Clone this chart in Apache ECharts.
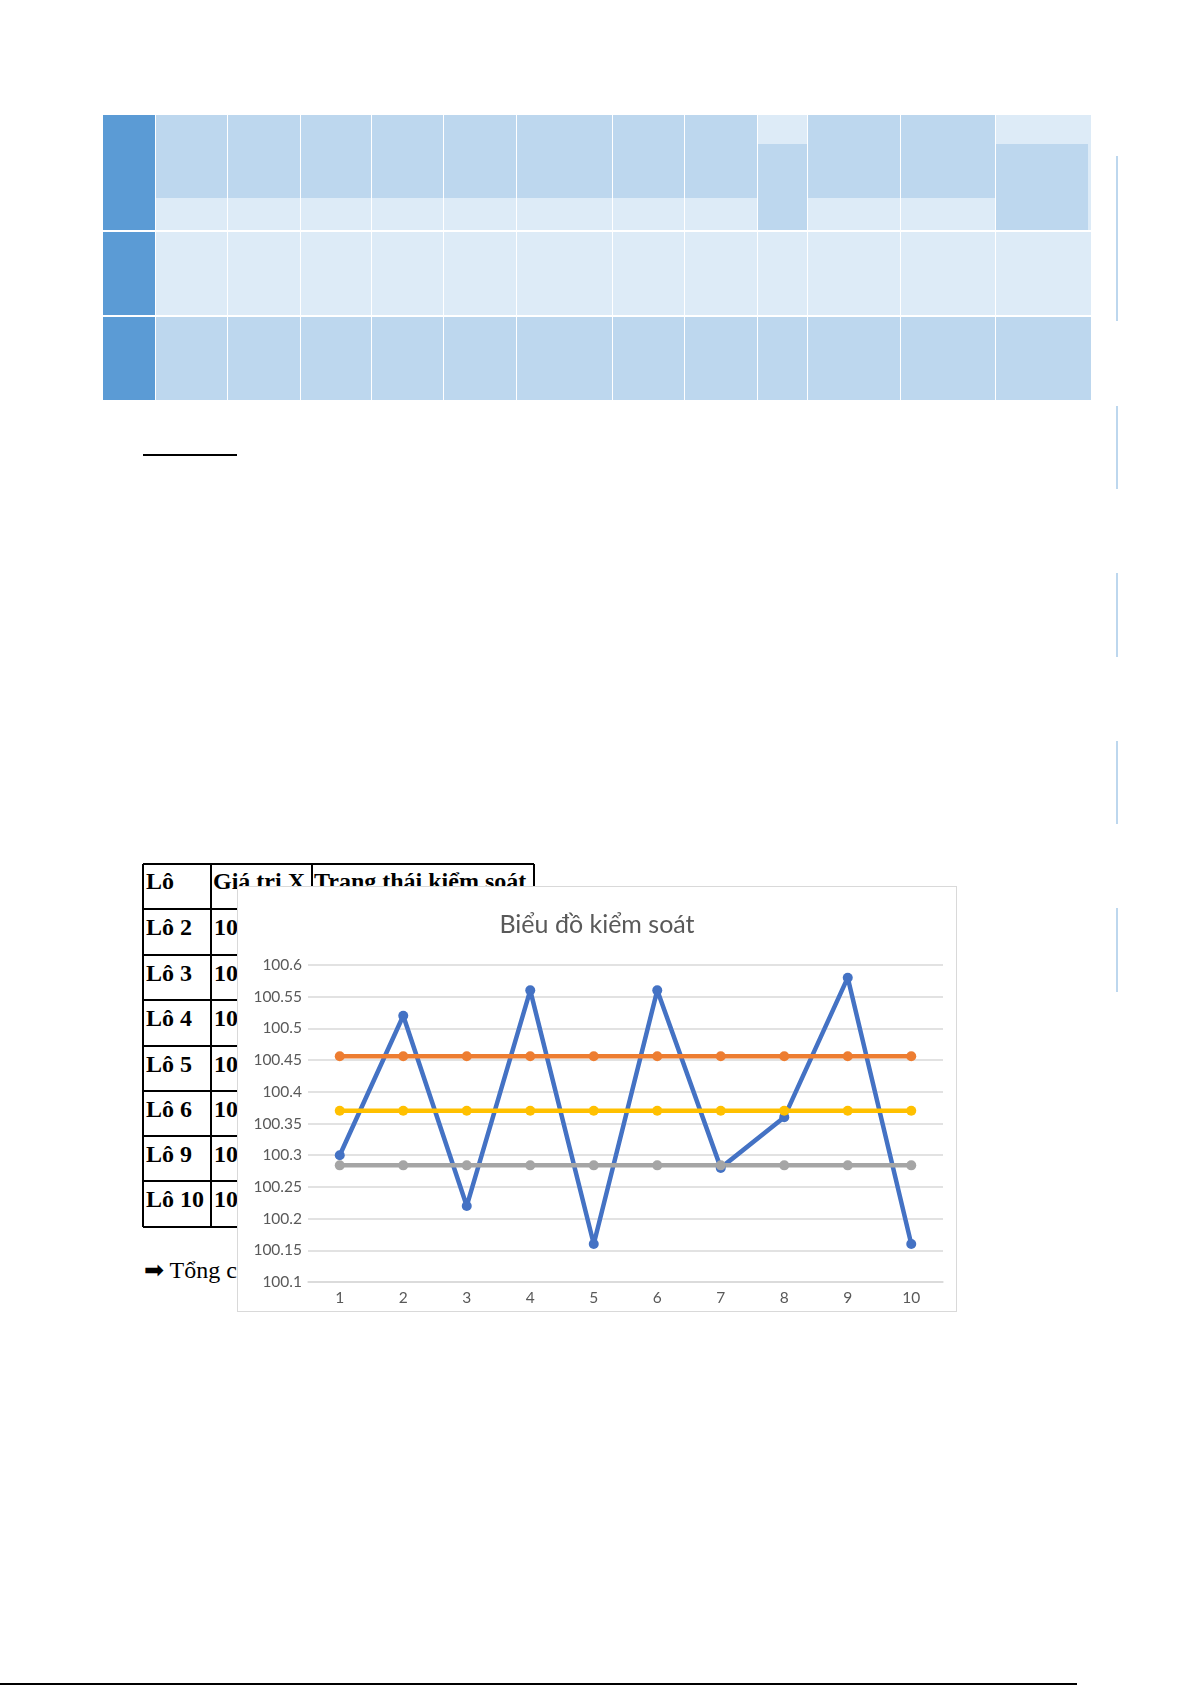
<!DOCTYPE html>
<html>
<head>
<meta charset="utf-8">
<script src="https://cdn.jsdelivr.net/npm/echarts@6/dist/echarts.min.js"></script>
<style>
  html, body { margin: 0; padding: 0; background: #ffffff; }
  body { position: relative; width: 1192px; height: 1685px; overflow: hidden; }
  .cell { position: absolute; box-sizing: border-box; }
  .lt { position: absolute; font-family: "Liberation Serif", "Times New Roman", serif; font-weight: bold; font-size: 24px; color: #000; white-space: nowrap; line-height: 1; }
  #chart { position: absolute; left: 237px; top: 886px; width: 718px; height: 424px; border: 1px solid #D9D9D9; background: #ffffff; }
</style>
</head>
<body>
<div id="page"></div>
<div id="chart"></div>
<script>
// ---- chart data ----
const lots = ['1', '2', '3', '4', '5', '6', '7', '8', '9', '10'];
const xValues = [100.30, 100.52, 100.22, 100.56, 100.16, 100.56, 100.28, 100.36, 100.58, 100.16];
const uclValues = [100.456, 100.456, 100.456, 100.456, 100.456, 100.456, 100.456, 100.456, 100.456, 100.456];
const lclValues = [100.284, 100.284, 100.284, 100.284, 100.284, 100.284, 100.284, 100.284, 100.284, 100.284];
const clValues = [100.37, 100.37, 100.37, 100.37, 100.37, 100.37, 100.37, 100.37, 100.37, 100.37];
const yTicks = [100.1, 100.15, 100.2, 100.25, 100.3, 100.35, 100.4, 100.45, 100.5, 100.55, 100.6];
const chartTitle = 'Biểu đồ kiểm soát';

// ---- text of the small table behind the chart ----
const tableHeader = ['Lô', 'Giá trị X', 'Trạng thái kiểm soát'];
const tableLots = ['Lô 2', 'Lô 3', 'Lô 4', 'Lô 5', 'Lô 6', 'Lô 9', 'Lô 10'];
const tableVals = ['10', '10', '10', '10', '10', '10', '10'];
const noteText = '➡ Tổng c';

// ---- page decoration ----
const page = document.getElementById('page');
function box(l, t, w, h, color) {
  const d = document.createElement('div');
  d.className = 'cell';
  d.style.left = l + 'px'; d.style.top = t + 'px';
  d.style.width = w + 'px'; d.style.height = h + 'px';
  if (color) d.style.background = color;
  page.appendChild(d);
  return d;
}
function text(s, l, t, extra) {
  const d = document.createElement('div');
  d.className = 'lt';
  d.textContent = s;
  d.style.left = l + 'px'; d.style.top = t + 'px';
  if (extra) Object.assign(d.style, extra);
  page.appendChild(d);
  return d;
}

// top blue table (no text)
const DARK = '#BDD7EE', LIGHT = '#DDEBF7', HEAD = '#5B9BD5';
const colB = [103, 155, 227, 300, 371, 443, 516, 612, 684, 757, 807, 900, 995, 1091];
box(103, 115, 52, 115, HEAD);
box(103, 232, 52, 83, HEAD);
box(103, 317, 52, 83, HEAD);
for (let i = 1; i < colB.length - 1; i++) {
  const l = colB[i] + 1, w = colB[i + 1] - colB[i] - 1;
  if (i === 9 || i === 12) {
    box(l, 115, w, 29, LIGHT);
    const dw = (i === 12) ? w - 3 : w;
    box(l, 144, dw, 86, DARK);
    if (i === 12) box(l + dw, 144, 3, 86, LIGHT);
  } else {
    box(l, 115, w, 83, DARK);
    box(l, 198, w, 32, LIGHT);
  }
  box(l, 232, w, 83, LIGHT);
  box(l, 317, w, 83, DARK);
}
// right side bars
[[156, 321], [406, 489], [573, 657], [741, 824], [908, 992]].forEach(s => box(1116, s[0], 2, s[1] - s[0], DARK));
// underline
box(143, 454, 94, 2, '#000');
// bottom rule
box(0, 1683, 1077, 2, '#000');

// lower black-bordered table
const tL = 143, tR = 534, tc1 = 211, tc2 = 312;
const tRows = [864, 909, 955, 1000, 1046, 1091, 1136, 1181, 1227];
const BL = '#000';
tRows.forEach((y, i) => {
  const r = (i <= 1) ? tR : tc2 + 30;
  box(tL, y - 1, r - tL, 2, BL);
});
box(tL - 1, 864, 2, 1227 - 864, BL);
box(tc1 - 1, 864, 2, 1227 - 864, BL);
box(tc2 - 1, 864, 2, 50, BL);
box(tR - 1, 864, 2, 50, BL);
text(tableHeader[0], 146, 869);
text(tableHeader[1], 213, 869);
text(tableHeader[2], 314, 869);
tableLots.forEach((s, i) => {
  const top = tRows[i + 1] + 6;
  text(s, 146, top);
  text(tableVals[i], 214, top);
});
text(noteText, 144, 1258, { fontWeight: 'normal' });

// ---- chart ----
const chart = echarts.init(document.getElementById('chart'), null, { renderer: 'canvas' });
const fmt = v => String(parseFloat(Number(v).toFixed(2)));
function lineSeries(name, data, color) {
  return {
    name, type: 'line', data, color,
    symbol: 'circle', symbolSize: 10,
    lineStyle: { width: 4.5, color },
    itemStyle: { color },
    emphasis: { disabled: true },
    animation: false, z: 2
  };
}
chart.setOption({
  animation: false,
  backgroundColor: '#ffffff',
  title: {
    text: chartTitle, left: 'center', top: 20,
    textStyle: { fontFamily: 'Lato', fontSize: 25, fontWeight: 'normal', color: '#595959' }
  },
  grid: { left: 70, right: 13, top: 78, bottom: 29, containLabel: false },
  xAxis: {
    type: 'category', data: lots, boundaryGap: true,
    axisLine: { lineStyle: { color: '#D9D9D9', width: 1.5 } },
    axisTick: { show: false },
    axisLabel: { color: '#595959', fontFamily: 'Lato', fontSize: 15.5, margin: 8 },
    splitLine: { show: false }
  },
  yAxis: {
    type: 'value', min: yTicks[0], max: yTicks[yTicks.length - 1], interval: 0.05,
    axisLine: { show: false }, axisTick: { show: false },
    axisLabel: { color: '#595959', fontFamily: 'Lato', fontSize: 15.5, margin: 6, formatter: fmt },
    splitLine: { lineStyle: { color: '#D9D9D9', width: 1.5 } }
  },
  series: [
    lineSeries('X', xValues, '#4472C4'),
    lineSeries('UCL', uclValues, '#ED7D31'),
    lineSeries('LCL', lclValues, '#A5A5A5'),
    lineSeries('CL', clValues, '#FFC000')
  ]
});
</script>
</body>
</html>
